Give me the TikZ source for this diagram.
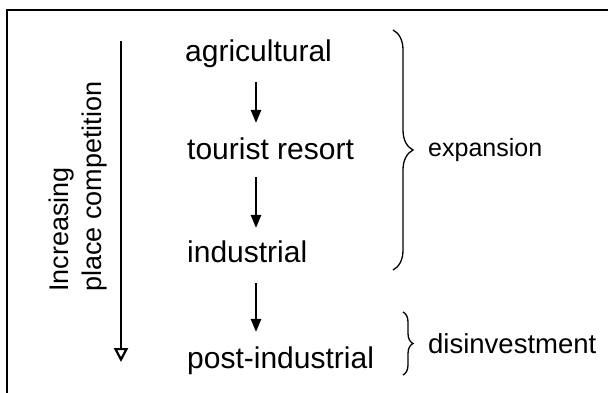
\documentclass[tikz,border=0pt]{standalone}
\usepackage{fontspec}
\setmainfont{Liberation Sans}
\usetikzlibrary{arrows.meta,decorations.pathreplacing}
\begin{document}
\begin{tikzpicture}[x=1pt,y=-1pt,
  stage/.style={anchor=base west,inner sep=0pt,text height=22pt,text depth=6.5pt,
    font=\fontsize{30}{36}\selectfont},
  side/.style={anchor=base west,inner sep=0pt,font=\fontsize{27}{32}\selectfont},
  flow/.style={line width=1.7pt,-{Triangle[length=13pt,width=10.5pt]}},
  curly/.style={line width=1.3pt,decorate,decoration={brace,amplitude=#1}}]
  \useasboundingbox (0,0) rectangle (608,393);
  % open frame: top and left edges
  \draw[line width=1.7pt] (7,393) -- (7,10) -- (608,10);
  % stages
  \node[stage] (agri) at (185,62) {agricultural};
  \node[stage] (tour) at (187,160) {tourist resort};
  \node[stage] (ind)  at (187,262) {industrial};
  \node[stage] (post) at (187,368) {post-industrial};
  % arrows between stages
  \coordinate (ax) at (256,0);
  \draw[flow,shorten <=13.5pt,shorten >=15pt] (agri.south -| ax) -- (tour.north -| ax);
  \draw[flow,shorten <=10.5pt,shorten >=12pt] (tour.south -| ax) -- (ind.north -| ax);
  \draw[flow,shorten <=14.5pt,shorten >=14pt] (ind.south -| ax) -- (post.north -| ax);
  % competition axis
  \coordinate (ctop) at (121,41);
  \coordinate (cbot) at (121,362);
  \draw[line width=1.5pt,-{Triangle[open,length=14pt,width=14pt,line width=2.2pt]}] (ctop) -- (cbot);
  \node[side,rotate=90] (incr) at (68,292) {Increasing};
  \node[side,rotate=90] (place) at (101,292) {place competition};
  % braces
  \draw[curly=20pt] (393,30) -- (393,270);
  \node[anchor=base west,inner sep=0pt,font=\fontsize{25}{30}\selectfont] (exp) at (428,157) {expansion};
  \draw[curly=10pt] (403,312) -- (403,375);
  \node[anchor=base west,inner sep=0pt,font=\fontsize{27.5}{33}\selectfont] (dis) at (428,353) {disinvestment};
\end{tikzpicture}
\end{document}
